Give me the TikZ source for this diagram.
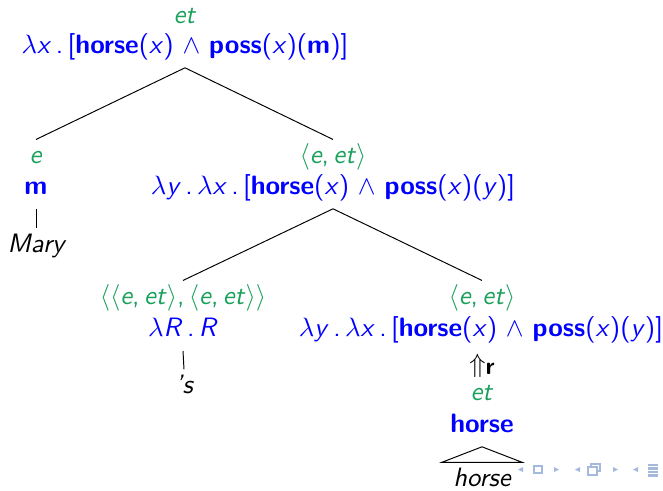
\documentclass[11pt,tikz,border=0pt]{standalone}
\usepackage{amsmath,amssymb}
\usepackage{tikz}
\usetikzlibrary{positioning}
\definecolor{tgreen}{RGB}{25,160,90}
\definecolor{navblue}{RGB}{165,185,220}

\begin{document}
\begin{tikzpicture}[x=0.412pt, y=-0.412pt,
    every node/.style={inner sep=2pt, anchor=base, font=\sffamily},
    typ/.style={text=tgreen, text height=7.5pt},
    sem/.style={text=blue, text depth=3.9pt},
    leaf/.style={text height=7.5pt, font=\sffamily\itshape},
    nav/.style={fill=navblue, draw=none}]
    \useasboundingbox (0,0) rectangle (663,490);

    % root: et
    \node[typ] (rt) at (185,23) {\textit{et}};
    \node[sem] (rs) at (185,53) {$\lambda$\textit{x}\,.\,[\textbf{horse}(\textit{x}) $\wedge$ \textbf{poss}(\textit{x})(\textbf{m})]};

    % left: Mary
    \node[typ] (mt) at (36,163) {\textit{e}};
    \node[sem] (ms) at (36,194) {\textbf{m}};
    \node[leaf] (ml) at (36,252) {Mary};

    % right: <e,et>
    \node[typ] (at) at (333,163) {$\langle$\textit{e},\,\textit{et}$\rangle$};
    \node[sem] (as) at (333,194) {$\lambda$\textit{y}\,.\,$\lambda$\textit{x}\,.\,[\textbf{horse}(\textit{x}) $\wedge$ \textbf{poss}(\textit{x})(\textit{y})]};

    % 's
    \node[typ] (st) at (183,304) {$\langle\langle$\textit{e},\,\textit{et}$\rangle$,\,$\langle$\textit{e},\,\textit{et}$\rangle\rangle$};
    \node[sem] (ss) at (183,336) {$\lambda$\textit{R}\,.\,\textit{R}};
    \node[leaf] (sl) at (184,393) {’s};

    % horse, shifted by r
    \node[typ] (ht) at (482,304) {$\langle$\textit{e},\,\textit{et}$\rangle$};
    \node[sem] (hs) at (481,336) {$\lambda$\textit{y}\,.\,$\lambda$\textit{x}\,.\,[\textbf{horse}(\textit{x}) $\wedge$ \textbf{poss}(\textit{x})(\textit{y})]};
    \node (up) at (482,372) {$\Uparrow$\raisebox{-.25ex}{\small\bfseries r}};
    \node[typ] (h2t) at (482,400) {\textit{et}};
    \node[sem] (h2s) at (482,432) {\textbf{horse}};
    \node[leaf, minimum width=33pt] (hl) at (482,486) {horse};

    \draw (rs.south) -- (mt.north);
    \draw (rs.south) -- (at.north);
    \draw (ms.south) -- (ml.north);
    \draw (as.south) -- (st.north);
    \draw (as.south) -- (ht.north);
    \draw (ss.south) -- (sl.north);
    \draw (h2s.south) -- (hl.north west) -- (hl.north east) -- cycle;

    % navigation symbols
    \fill[nav] (523,467) -- (518,469.5) -- (523,472) -- cycle;
    \draw[navblue, line width=1.1pt] (534,466) rectangle (542,473);
    \fill[nav] (554,467) -- (559,469.5) -- (554,472) -- cycle;
    \fill[nav] (580,467) -- (575,469.5) -- (580,472) -- cycle;
    \draw[navblue, line width=1.1pt, fill=white] (591,464) rectangle (600,471);
    \draw[navblue, line width=1.1pt, fill=white] (588,467) rectangle (597,475);
    \fill[nav] (613,467) -- (618,469.5) -- (613,472) -- cycle;
    \fill[nav] (638,467) -- (633,469.5) -- (638,472) -- cycle;
    \foreach \yy in {465,468.5,472,475.5}
      \draw[navblue, line width=.9pt] (648,\yy) -- (658,\yy);
\end{tikzpicture}
\end{document}
